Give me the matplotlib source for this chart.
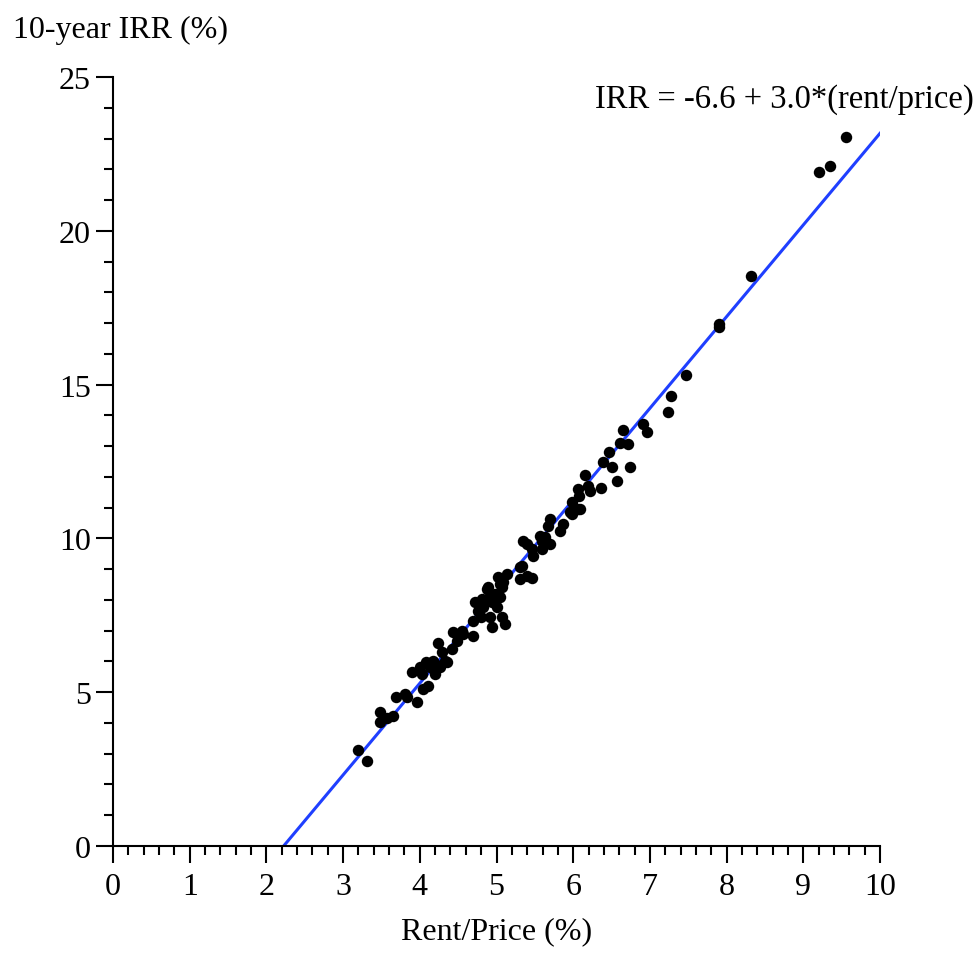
import matplotlib
matplotlib.use('Agg')
import matplotlib.pyplot as plt
from matplotlib.ticker import MultipleLocator
import numpy as np

# rent/price (%) and 10-year IRR (%)
rent_price = [3.19, 3.31, 3.48, 3.48, 3.57, 3.65, 3.69, 3.81, 3.83, 3.96,
              3.90, 4.00, 4.03, 4.04, 4.11, 4.08, 4.13, 4.20, 4.20, 4.26,
              4.24, 4.29, 4.33, 4.17, 4.35, 4.43, 4.49, 4.55, 4.56, 4.42,
              4.69, 4.69, 4.72, 4.81, 4.82, 4.89, 4.92, 4.94, 4.92, 4.94,
              5.01, 5.05, 5.02, 5.08, 5.07, 5.11, 5.14, 5.31, 5.33, 5.40,
              5.46, 4.88, 5.05, 5.31, 5.35, 5.40, 5.46, 5.48, 5.59, 5.57,
              5.59, 5.63, 5.70, 5.67, 5.83, 5.87, 5.96, 5.98, 6.06, 5.70,
              5.98, 6.06, 6.08, 6.09, 6.15, 6.19, 6.22, 6.36, 6.39, 6.51,
              6.47, 6.57, 6.61, 6.65, 6.71, 6.74, 6.91, 6.96, 7.24, 7.28,
              7.47, 7.90, 7.90, 8.32, 9.20, 9.35, 9.56, 5.07, 4.80, 4.76,
              4.98]
irr = [3.12, 2.76, 4.36, 4.03, 4.16, 4.23, 4.84, 4.94, 4.84, 4.68,
       5.66, 5.82, 5.59, 5.10, 5.20, 5.98, 5.82, 5.59, 5.92, 5.82,
       6.60, 6.31, 6.01, 6.01, 5.98, 6.96, 6.66, 6.99, 6.89, 6.40,
       6.83, 7.31, 7.93, 8.03, 7.77, 8.42, 8.13, 7.93, 7.44, 7.12,
       7.77, 8.09, 8.75, 8.58, 8.42, 7.22, 8.84, 8.68, 9.10, 8.78,
       8.71, 8.36, 8.52, 9.07, 9.92, 9.82, 9.66, 9.43, 9.66, 10.08,
       9.92, 10.05, 9.82, 10.40, 10.24, 10.47, 10.86, 11.18, 10.96, 10.63,
       10.79, 11.61, 11.38, 10.96, 12.06, 11.70, 11.54, 11.64, 12.48, 12.32,
       12.81, 11.87, 13.10, 13.52, 13.07, 12.32, 13.72, 13.46, 14.11, 14.63,
       15.31, 16.97, 16.87, 18.53, 21.91, 22.11, 23.05, 7.44, 7.44, 7.64,
       8.19]

# fitted line (the label shows rounded values)
intercept = -6.63
slope = 2.98

plt.rcParams['font.family'] = ['Liberation Serif', 'DejaVu Serif']

fig = plt.figure(figsize=(9.76, 9.54), dpi=100)
ax = fig.add_axes([113 / 976, 1 - 847 / 954, 767 / 976, 769 / 954])

# clip the line at IRR = 0
x_fit = np.linspace(-intercept / slope, 10, 200)
ax.plot(x_fit, intercept + slope * x_fit, color='#1f3fff', lw=2.2, zorder=2)

ax.scatter(rent_price, irr, s=68, color='black', zorder=3, linewidths=0)

ax.set_xlim(0, 10)
ax.set_ylim(0, 25)
ax.xaxis.set_major_locator(MultipleLocator(1))
ax.xaxis.set_minor_locator(MultipleLocator(0.2))
ax.yaxis.set_major_locator(MultipleLocator(5))
ax.yaxis.set_minor_locator(MultipleLocator(1))

for s in ['top', 'right']:
    ax.spines[s].set_visible(False)
for s in ['left', 'bottom']:
    ax.spines[s].set_linewidth(1.5)

ax.tick_params(which='major', direction='out', length=12, width=1.5,
               labelsize=23, colors='black')
ax.tick_params(which='minor', direction='out', length=6.5, width=1.5)
ax.tick_params(axis='x', which='major', pad=7)
ax.tick_params(axis='y', which='major', pad=4)

ax.set_xlabel('Rent/Price (%)', fontsize=23, labelpad=11)
fig.text(13 / 976, 1 - 30 / 954, '10-year IRR (%)', fontsize=23,
         ha='left', va='center')
fig.text(974 / 976, 1 - 100 / 954, 'IRR = -6.6 + 3.0*(rent/price)',
         fontsize=23.5, ha='right', va='center')

fig.savefig('out.png', dpi=100)
